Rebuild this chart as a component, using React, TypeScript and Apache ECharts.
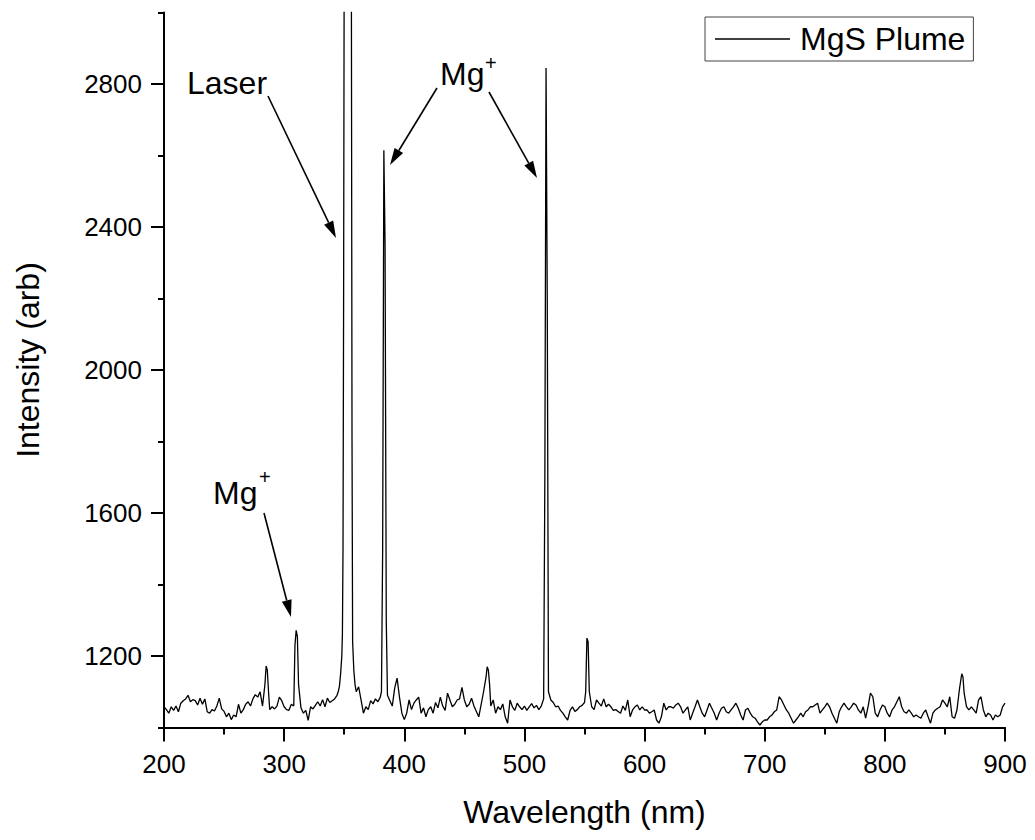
import React, { useEffect, useRef } from "react";
import * as echarts from "echarts";

// Emission spectrum of the MgS plume: [wavelength (nm), intensity (arb)]
const region200to340: [number, number][] = [
  [200, 1058], [202, 1050], [204, 1040], [206, 1058], [208, 1048], [210, 1060], [212, 1044], [214, 1068],
  [216, 1075], [218, 1080], [220, 1090], [222, 1072], [224, 1078], [226, 1075], [228, 1063], [230, 1082],
  [232, 1065], [234, 1080], [236, 1044], [238, 1040], [240, 1050], [242, 1046], [244, 1060], [246, 1082],
  [248, 1052], [250, 1045], [252, 1030], [254, 1040], [256, 1022], [258, 1035], [260, 1030], [262, 1065],
  [264, 1040], [266, 1050], [268, 1065], [270, 1072], [272, 1060], [274, 1080], [276, 1092], [278, 1085],
  [280, 1100], [282, 1060], [284, 1120], [285, 1172], [286, 1160], [287, 1100], [288, 1050], [290, 1058],
  [292, 1052], [294, 1060], [296, 1085], [298, 1075], [300, 1058], [302, 1050], [304, 1048], [306, 1065],
  [308, 1060], [309, 1230], [310, 1272], [311, 1255], [312, 1120], [314, 1055], [316, 1040], [318, 1048],
  [320, 1020], [322, 1058], [324, 1052], [326, 1062], [328, 1072], [330, 1060], [332, 1078], [334, 1058],
  [336, 1082], [338, 1070],
];

const laserPeak: [number, number][] = [
  [340, 1075], [342, 1080], [344, 1090], [345, 1100], [346, 1115], [347, 1150], [348, 1200], [348.5, 1260],
  [349, 1500], [349.5, 2200], [350, 3200], [351, 5000], [352, 6000], [353, 6000], [354, 6000], [355, 5000],
  [355.5, 4000], [356, 3000], [356.5, 1800], [357, 1240], [358, 1160], [359, 1120], [360, 1100],
];

const region362to520: [number, number][] = [
  [362, 1114], [364, 1077], [366, 1040], [368, 1058], [370, 1050], [372, 1075], [374, 1066], [376, 1080],
  [378, 1072], [380, 1085], [381, 1100], [382, 1500], [383, 2615], [384, 2350], [385, 1300], [386, 1090],
  [388, 1075], [390, 1060], [392, 1110], [394, 1138], [396, 1085], [398, 1040], [400, 1022], [402, 1040],
  [404, 1077], [406, 1050], [408, 1068], [410, 1077], [412, 1085], [414, 1040], [416, 1055], [418, 1030],
  [420, 1050], [422, 1058], [424, 1040], [426, 1070], [428, 1055], [430, 1085], [432, 1060], [434, 1048],
  [436, 1096], [438, 1077], [440, 1058], [442, 1065], [444, 1077], [446, 1080], [448, 1112], [450, 1077],
  [452, 1058], [454, 1065], [456, 1082], [458, 1060], [460, 1045], [462, 1030], [464, 1065], [466, 1100],
  [468, 1140], [469, 1170], [470, 1160], [471, 1120], [472, 1060], [474, 1077], [476, 1040], [478, 1058],
  [480, 1050], [482, 1066], [484, 1030], [486, 1012], [488, 1077], [490, 1058], [492, 1048], [494, 1068],
  [496, 1058], [498, 1050], [500, 1060], [502, 1048], [504, 1058], [506, 1067], [508, 1055], [510, 1062],
  [512, 1050], [514, 1060], [516, 1080], [517, 1700], [518, 2845], [519, 2200], [520, 1100],
];

const region522to700: [number, number][] = [
  [522, 1077], [524, 1070], [526, 1058], [528, 1060], [530, 1048], [532, 1040], [534, 1030], [536, 1021],
  [538, 1048], [540, 1058], [542, 1045], [544, 1050], [546, 1058], [548, 1062], [550, 1070], [551, 1100],
  [552, 1250], [553, 1240], [554, 1100], [556, 1058], [558, 1050], [560, 1077], [562, 1068], [564, 1060],
  [566, 1080], [568, 1058], [570, 1065], [572, 1058], [574, 1048], [576, 1050], [578, 1045], [580, 1040],
  [582, 1060], [584, 1048], [586, 1077], [588, 1030], [590, 1049], [592, 1058], [594, 1063], [596, 1049],
  [598, 1058], [600, 1049], [602, 1049], [604, 1040], [606, 1044], [608, 1049], [610, 1021], [612, 1012],
  [614, 1030], [616, 1068], [618, 1049], [620, 1058], [622, 1058], [624, 1054], [626, 1063], [628, 1068],
  [630, 1058], [632, 1040], [634, 1049], [636, 1058], [638, 1021], [640, 1040], [642, 1058], [644, 1077],
  [646, 1058], [648, 1040], [650, 1030], [652, 1049], [654, 1068], [656, 1054], [658, 1040], [660, 1021],
  [662, 1040], [664, 1054], [666, 1058], [668, 1044], [670, 1040], [672, 1049], [674, 1058], [676, 1068],
  [678, 1054], [680, 1035], [682, 1021], [684, 1049], [686, 1054], [688, 1040], [690, 1030], [692, 1026],
  [694, 1016], [696, 1007], [698, 1016], [700, 1021],
];

const region702to900: [number, number][] = [
  [702, 1021], [704, 1030], [706, 1035], [708, 1044], [710, 1049], [712, 1086], [714, 1077], [716, 1063],
  [718, 1049], [720, 1040], [722, 1026], [724, 1012], [726, 1021], [728, 1030], [730, 1040], [732, 1030],
  [734, 1044], [736, 1049], [738, 1058], [740, 1058], [742, 1063], [744, 1068], [746, 1040], [748, 1049],
  [750, 1058], [752, 1068], [754, 1058], [756, 1040], [758, 1026], [760, 1012], [762, 1044], [764, 1058],
  [766, 1068], [768, 1058], [770, 1049], [772, 1058], [774, 1068], [776, 1063], [778, 1049], [780, 1040],
  [782, 1058], [784, 1026], [786, 1058], [788, 1096], [790, 1086], [792, 1040], [794, 1030], [796, 1049],
  [798, 1063], [800, 1058], [802, 1040], [804, 1030], [806, 1049], [808, 1058], [810, 1072], [812, 1086],
  [814, 1058], [816, 1044], [818, 1040], [820, 1049], [822, 1040], [824, 1030], [826, 1035], [828, 1030],
  [830, 1026], [832, 1040], [834, 1049], [836, 1030], [838, 1012], [840, 1040], [842, 1049], [844, 1054],
  [846, 1058], [848, 1077], [850, 1068], [852, 1058], [854, 1086], [856, 1030], [858, 1026], [860, 1049],
  [862, 1105], [863, 1128], [864, 1150], [865, 1142], [866, 1096], [868, 1058], [870, 1049], [872, 1058],
  [874, 1049], [876, 1040], [878, 1077], [880, 1086], [882, 1049], [884, 1030], [886, 1040], [888, 1035],
  [890, 1021], [892, 1035], [894, 1030], [896, 1035], [898, 1058], [900, 1068],
];

const seriesName = "MgS Plume";
const xAxisTitle = "Wavelength (nm)";
const yAxisTitle = "Intensity (arb)";
const yMajorTicks = [1200, 1600, 2000, 2400, 2800];
const yMinorTicks = [1000, 1400, 1800, 2200, 2600, 3000];

const FONT = "'Liberation Sans', Arial, Helvetica, sans-serif";

function arrow(x1: number, y1: number, x2: number, y2: number) {
  const dx = x2 - x1;
  const dy = y2 - y1;
  const len = Math.sqrt(dx * dx + dy * dy);
  const ux = dx / len;
  const uy = dy / len;
  const headLen = 17;
  const halfW = 5;
  const bx = x2 - ux * headLen;
  const by = y2 - uy * headLen;
  return [
    {
      type: "line",
      shape: { x1, y1, x2: bx, y2: by },
      style: { stroke: "#000", lineWidth: 1.6 },
    },
    {
      type: "polygon",
      shape: {
        points: [
          [x2, y2],
          [bx - uy * halfW, by + ux * halfW],
          [bx + uy * halfW, by - ux * halfW],
        ],
      },
      style: { fill: "#000" },
    },
  ];
}

function label(text: string, x: number, y: number, size: number) {
  return {
    type: "text",
    x,
    y,
    style: {
      text,
      fill: "#000",
      fontSize: size,
      fontFamily: FONT,
      textAlign: "left",
      textVerticalAlign: "middle",
    },
  };
}

export default function App() {
  const ref = useRef<HTMLDivElement>(null);

  useEffect(() => {
    if (!ref.current) return;
    const chart = echarts.init(ref.current, null, { renderer: "svg" });
    const data = [
      ...region200to340,
      ...laserPeak,
      ...region362to520,
      ...region522to700,
      ...region702to900,
    ];
    const axisLine = { show: true, lineStyle: { color: "#000", width: 2 } };
    const tickStyle = { color: "#000", width: 2 };
    const plain = (v: number) => String(v);
    chart.setOption({
      animation: false,
      backgroundColor: "#fff",
      grid: { left: 164, right: 30, top: 12.5, bottom: 112.5, containLabel: false },
      legend: {
        data: [seriesName],
        left: 705,
        top: 17,
        padding: [6, 8, 6, 10],
        borderColor: "#444",
        borderWidth: 1,
        icon: "rect",
        itemWidth: 75,
        itemHeight: 1.3,
        itemStyle: { color: "#000" },
        textStyle: { fontSize: 32, fontFamily: FONT, color: "#000", padding: [0, 0, 0, 5] },
      },
      xAxis: {
        type: "value",
        position: "bottom",
        min: 200,
        max: 900,
        interval: 100,
        name: xAxisTitle,
        nameLocation: "middle",
        nameGap: 68,
        nameTextStyle: { fontSize: 32, fontFamily: FONT, color: "#000" },
        axisLine,
        axisTick: { show: true, inside: false, length: 14, lineStyle: tickStyle },
        minorTick: { show: true, splitNumber: 2, length: 7, lineStyle: tickStyle },
        axisLabel: {
          fontSize: 26,
          fontFamily: FONT,
          color: "#000",
          margin: 23,
          formatter: plain,
        },
        splitLine: { show: false },
        minorSplitLine: { show: false },
      },
      yAxis: [
        {
          type: "value",
          position: "left",
          min: 1000,
          max: 3000,
          interval: 200,
          name: yAxisTitle,
          nameLocation: "middle",
          nameGap: 120,
          nameTextStyle: { fontSize: 32, fontFamily: FONT, color: "#000", padding: [0, 0, 0, 20] },
          axisLine,
          axisTick: { show: true, inside: false, length: 13, customValues: yMajorTicks, lineStyle: tickStyle },
          axisLabel: {
            fontSize: 26,
            fontFamily: FONT,
            color: "#000",
            margin: 22,
            customValues: yMajorTicks,
            formatter: plain,
          },
          splitLine: { show: false },
        },
        {
          type: "value",
          position: "left",
          offset: 0,
          min: 1000,
          max: 3000,
          interval: 200,
          axisLine: { show: false },
          axisTick: { show: true, inside: false, length: 6, customValues: yMinorTicks, lineStyle: tickStyle },
          axisLabel: { show: false },
          splitLine: { show: false },
        },
      ],
      series: [
        {
          name: seriesName,
          type: "line",
          data,
          yAxisIndex: 0,
          showSymbol: false,
          symbol: "none",
          clip: true,
          lineStyle: { color: "#000", width: 1.3 },
          itemStyle: { color: "#000" },
        },
      ],
      graphic: [
        label("Laser", 187, 83, 32),
        ...arrow(268, 96, 336, 238),
        label("Mg", 440, 74, 32),
        label("+", 485, 63, 20),
        ...arrow(437, 88, 390, 165),
        ...arrow(489, 92, 537, 178),
        label("Mg", 213, 493, 32),
        label("+", 259, 477, 20),
        ...arrow(264, 513, 291, 617),
      ],
    });
    return () => chart.dispose();
  }, []);

  return (
    <div
      ref={ref}
      style={{ position: "fixed", left: 0, top: 0, width: 1035, height: 840, background: "#fff" }}
    />
  );
}
